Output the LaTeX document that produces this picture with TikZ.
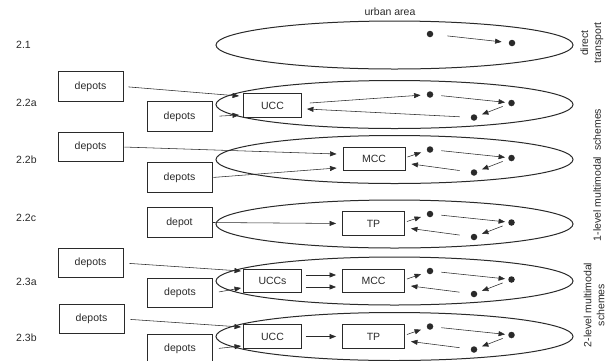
\documentclass[tikz,border=0pt]{standalone}
\usepackage{fontspec}
\setmainfont{Liberation Sans}
\usetikzlibrary{arrows.meta,shapes.geometric}
\definecolor{ink}{HTML}{2A2A2A}
\tikzset{
  area/.style={draw=ink, line width=1pt, ellipse, minimum width=357pt, minimum height=48pt, inner sep=0pt},
  depotbox/.style={draw=ink, line width=0.9pt, minimum width=65pt, minimum height=29.5pt, inner sep=0pt, font=\fontsize{10.5}{12}\selectfont, text=ink},
  hubbox/.style={draw=ink, line width=0.9pt, minimum width=58pt, minimum height=23.5pt, inner sep=0pt, font=\fontsize{10.5}{12}\selectfont, text=ink},
  dot/.style={circle, fill=ink, inner sep=0pt, minimum size=6.5pt},
  arr/.style={draw=ink, line width=0.55pt, -{Triangle[length=6.5pt,width=5pt]}},
  lbl/.style={font=\fontsize{10.5}{12}\selectfont, text=ink, inner sep=0pt},
  side/.style={font=\fontsize{10.5}{13}\selectfont, text=ink, rotate=90, align=center, inner sep=0pt}
}
\begin{document}
\begin{tikzpicture}[x=1pt,y=-1pt]
\clip (0,0) rectangle (611,360);
\fill[white] (0,0) rectangle (611,360);

% title and labels
\node[lbl] (urban) at (390,12) {urban area};
\node[lbl, anchor=west] (l21) at (16,45) {2.1};
\node[lbl, anchor=west] (l22a) at (16,103) {2.2a};
\node[lbl, anchor=west] (l22b) at (16,160) {2.2b};
\node[lbl, anchor=west] (l22c) at (16,218) {2.2c};
\node[lbl, anchor=west] (l23a) at (16,282) {2.3a};
\node[lbl, anchor=west] (l23b) at (16,338) {2.3b};

\node[side] (s1) at (592,43) {direct\\transport};
\node[side] (s2) at (597,175) {1-level multimodal\hspace{3pt} schemes};
\node[side] (s3) at (594,305) {2-level multimodal\\schemes};

% urban areas
\node[area] (e21) at (394.5,45) {};
\node[area] (e22a) at (394.5,104.5) {};
\node[area] (e22b) at (394.5,159.5) {};
\node[area] (e22c) at (394.5,224) {};
\node[area] (e23a) at (394.5,281) {};
\node[area] (e23b) at (394.5,336.5) {};

% depots
\node[depotbox] (d22a1) at (90.5,86.5) {depots};
\node[depotbox] (d22a2) at (179.5,116.5) {depots};
\node[depotbox] (d22b1) at (90.5,147) {depots};
\node[depotbox] (d22b2) at (179.5,177.5) {depots};
\node[depotbox] (d22c) at (179.5,222.5) {depot};
\node[depotbox] (d23a1) at (90.5,263) {depots};
\node[depotbox] (d23a2) at (180,293) {depots};
\node[depotbox] (d23b1) at (91.5,319) {depots};
\node[depotbox] (d23b2) at (180,349) {depots};

% hubs
\node[hubbox] (u22a) at (272.5,105.5) {UCC};
\node[hubbox, minimum width=62pt] (m22b) at (374,159) {MCC};
\node[hubbox, minimum width=62pt] (t22c) at (373.5,223.5) {TP};
\node[hubbox] (u23a) at (272.5,281) {UCCs};
\node[hubbox, minimum width=62pt] (m23a) at (373.5,281) {MCC};
\node[hubbox] (u23b) at (272.5,336.5) {UCC};
\node[hubbox, minimum width=62pt] (t23b) at (373.5,336.5) {TP};

% dots
\node[dot] (a21) at (430,34) {};
\node[dot] (b21) at (512,43) {};
\foreach \r/\cy in {22a/104.5, 22b/159.5, 22c/224, 23a/281, 23b/336.5}{
  \node[dot] (p\r) at (430,\cy-10) {};
  \node[dot] (q\r) at (511.5,\cy-1.5) {};
  \node[dot] (r\r) at (474,\cy+13) {};
}

% direct transport
\draw[arr, shorten <=14pt, shorten >=7pt] (a21) -- (b21);

% tours inside the areas
\foreach \r in {22a, 22b, 22c, 23a, 23b}{
  \draw[arr, shorten <=8pt, shorten >=3pt] (p\r) -- (q\r);
  \draw[arr, shorten <=6pt, shorten >=5pt] (q\r) -- (r\r);
}
\draw[arr, shorten >=6pt] ([shift={(8pt,2.5pt)}]u22a.east) -- (p22a);
\draw[arr, shorten <=11pt] (r22a) -- ([shift={(5pt,-3.5pt)}]u22a.east);
\foreach \r/\h in {22b/m22b, 22c/t22c, 23a/m23a, 23b/t23b}{
  \draw[arr, shorten >=6pt] ([shift={(2pt,2pt)}]\h.east) -- (p\r);
  \draw[arr, shorten <=11pt] (r\r) -- ([shift={(6pt,-5pt)}]\h.east);
}

% depot connections
\draw[arr, shorten <=5pt] (d22a1.east) -- ([shift={(-4pt,9.5pt)}]u22a.west);
\draw[arr, shorten <=7pt] (d22a2.east) -- ([shift={(-4pt,-9.5pt)}]u22a.west);
\draw[arr, shorten <=1pt] (d22b1.east) -- ([shift={(-6pt,5pt)}]m22b.west);
\draw[arr, shorten <=1pt] (d22b2.east) -- ([shift={(-6pt,-9pt)}]m22b.west);
\draw[arr, shorten >=6pt] (d22c.east) -- (t22c.west);
\draw[arr, shorten <=6pt] (d23a1.east) -- ([shift={(-2pt,10pt)}]u23a.west);
\draw[arr, shorten <=6pt] (d23a2.east) -- ([shift={(-2pt,-7pt)}]u23a.west);
\draw[arr, shorten <=6pt] (d23b1.east) -- ([shift={(-2pt,9.5pt)}]u23b.west);
\draw[arr, shorten <=6pt] (d23b2.east) -- ([shift={(-2pt,-9.5pt)}]u23b.west);

% hub to hub
\draw[arr, line width=0.7pt, shorten <=4pt, shorten >=6pt] ([yshift=6pt]u23a.east) -- ([yshift=6pt]m23a.west);
\draw[arr, line width=0.7pt, shorten <=4pt, shorten >=6pt] ([yshift=-6pt]u23a.east) -- ([yshift=-6pt]m23a.west);
\draw[arr, shorten <=4pt, shorten >=6pt] (u23b.east) -- (t23b.west);
\end{tikzpicture}
\end{document}
